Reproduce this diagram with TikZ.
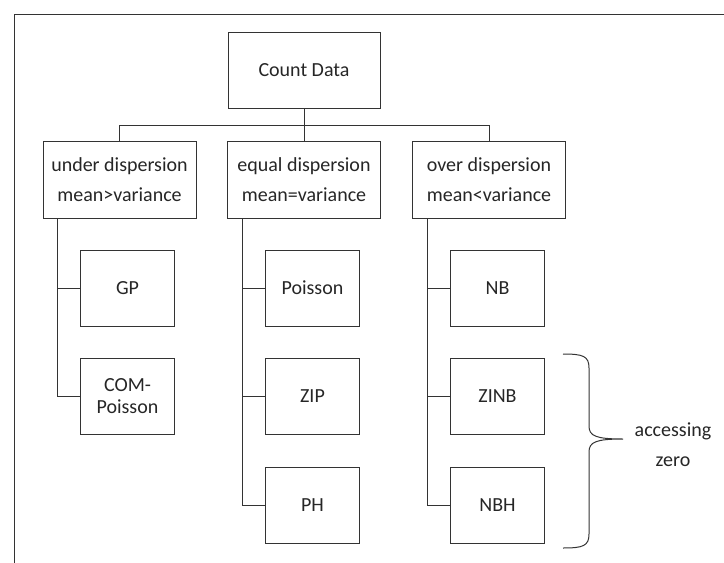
\documentclass[tikz,border=0pt]{standalone}
\usepackage{fontspec}
\setmainfont{Carlito}
\begin{document}
\begin{tikzpicture}[x=1pt,y=-1pt,
    box/.style={draw=black!80,line width=1pt,minimum width=153pt,
        minimum height=77pt,inner sep=0pt,align=center,text=black!85,
        font=\fontsize{20}{30}\selectfont},
    leaf/.style={box,minimum width=94pt,minimum height=76pt,
        font=\fontsize{20}{22}\selectfont},
    wire/.style={draw=black!80,line width=1pt}]

    \useasboundingbox (0,0) rectangle (724,563);
    \draw[wire] (14,563) -- (14,14) -- (724,14);

    % the boxes

    \node[box,minimum width=152pt,minimum height=76pt] (count) at (304,70) {Count Data};
    \node[box] (under) at (119.5,179.5) {under dispersion\\mean>variance};
    \node[box] (equal) at (304,179.5) {equal dispersion\\mean=variance};
    \node[box] (over) at (489,179.5) {over dispersion\\mean<variance};

    \node[leaf] (gp) at (127.5,288) {GP};
    \node[leaf] (com) at (127.5,396) {COM-\\Poisson};
    \node[leaf] (poisson) at (312.5,288) {Poisson};
    \node[leaf] (zip) at (312.5,396) {ZIP};
    \node[leaf] (ph) at (312.5,505) {PH};
    \node[leaf] (nb) at (497.5,288) {NB};
    \node[leaf] (zinb) at (497.5,396) {ZINB};
    \node[leaf] (nbh) at (497.5,505) {NBH};

    \node[align=center,text=black!85,font=\fontsize{20}{30}\selectfont]
    (zero) at (673,445) {accessing\\zero};

    % the lines

    \coordinate (bus) at (304,125);
    \draw[wire] (count) -- (bus) -| (under);
    \draw[wire] (bus) -| (over);
    \draw[wire] (bus) -- (equal);

    \draw[wire] ([xshift=15pt]under.south west) |- (gp.west);
    \draw[wire] ([xshift=15pt]under.south west) |- (com.west);
    \draw[wire] ([xshift=15pt]equal.south west) |- (poisson.west);
    \draw[wire] ([xshift=15pt]equal.south west) |- (zip.west);
    \draw[wire] ([xshift=15pt]equal.south west) |- (ph.west);
    \draw[wire] ([xshift=15pt]over.south west) |- (nb.west);
    \draw[wire] ([xshift=15pt]over.south west) |- (zinb.west);
    \draw[wire] ([xshift=15pt]over.south west) |- (nbh.west);

    % the brace
    \draw[wire] (563,354) .. controls (583,354) and (589,356) .. (589,368)
    -- (589,426) .. controls (589,436) and (596,439) .. (623,439)
    .. controls (596,439) and (589,442) .. (589,452)
    -- (589,534) .. controls (589,546) and (583,548) .. (563,548);
\end{tikzpicture}
\end{document}
